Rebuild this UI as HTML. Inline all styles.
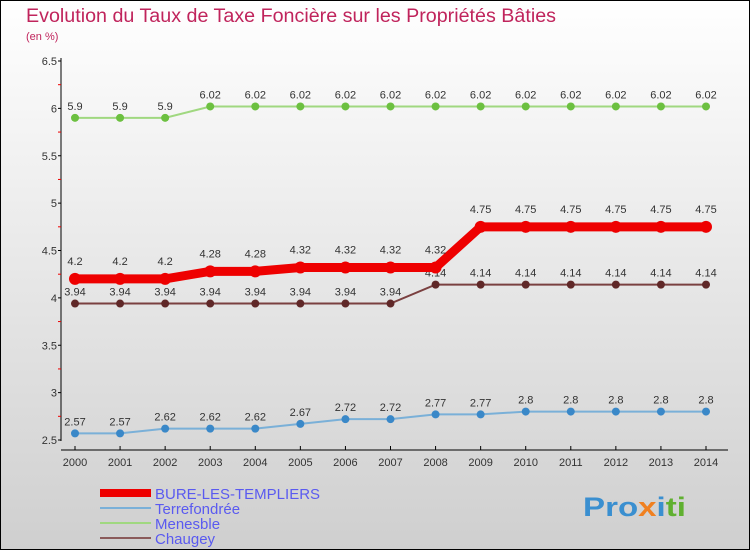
<!DOCTYPE html>
<html><head><meta charset="utf-8"><style>
body{margin:0}
#c{width:750px;height:550px;position:relative;overflow:hidden}
svg text{font-family:"Liberation Sans",sans-serif}
</style></head><body>
<div id="c">
<svg id="s" width="750" height="550" xmlns="http://www.w3.org/2000/svg">
<defs><linearGradient id="bg" x1="0" y1="0" x2="0" y2="1"><stop offset="0" stop-color="#ffffff"/><stop offset="1" stop-color="#cfcfcf"/></linearGradient></defs>
<rect x="0.5" y="0.5" width="749" height="549" fill="url(#bg)" stroke="#000"/>
<text x="26" y="22" font-size="19" textLength="530" lengthAdjust="spacingAndGlyphs" fill="#c0245c">Evolution du Taux de Taxe Foncière sur les Propriétés Bâties</text>
<text x="26" y="40" font-size="11" fill="#c0245c">(en %)</text>
<g id="axes"></g><g id="series"></g><g id="legend"></g>
<text x="583" y="516" font-size="27" textLength="103" lengthAdjust="spacingAndGlyphs" font-weight="bold" fill="#f0a020"><tspan fill="#3a8fd0">Pro</tspan><tspan fill="#f08020">x</tspan><tspan fill="#3a8fd0">i</tspan><tspan fill="#60b030">ti</tspan></text>
</svg></div>
<script>
const years=[2000,2001,2002,2003,2004,2005,2006,2007,2008,2009,2010,2011,2012,2013,2014];
const yTicks=[2.5,3,3.5,4,4.5,5,5.5,6,6.5];
const names=["BURE-LES-TEMPLIERS","Terrefondrée","Menesble","Chaugey"];
const bure=[4.2,4.2,4.2,4.28,4.28,4.32,4.32,4.32,4.32,4.75,4.75,4.75,4.75,4.75,4.75];
const terre=[2.57,2.57,2.62,2.62,2.62,2.67,2.72,2.72,2.77,2.77,2.8,2.8,2.8,2.8,2.8];
const menes=[5.9,5.9,5.9,6.02,6.02,6.02,6.02,6.02,6.02,6.02,6.02,6.02,6.02,6.02,6.02];
const chau=[3.94,3.94,3.94,3.94,3.94,3.94,3.94,3.94,4.14,4.14,4.14,4.14,4.14,4.14,4.14];
const NS="http://www.w3.org/2000/svg";
const X=i=>75+i*(706-75)/(years.length-1);
const Y=v=>440-(v-2.5)*(440-61)/4;
function mk(t,a,p){const e=document.createElementNS(NS,t);for(const k in a)e.setAttribute(k,a[k]);p.appendChild(e);return e;}
const ax=document.getElementById('axes');
let l=mk('line',{x1:61,y1:58,x2:61,y2:441,stroke:'#000','stroke-width':1},ax);


l=mk('line',{x1:61,y1:450,x2:728,y2:450,stroke:'#000','stroke-width':1},ax);


yTicks.forEach((v,i)=>{
 mk('line',{x1:58,y1:Y(v),x2:61,y2:Y(v),stroke:'#000'},ax);
 if(i<yTicks.length-1)mk('line',{x1:58,y1:Y(v+0.25),x2:61,y2:Y(v+0.25),stroke:'#e00'},ax);
 const t=mk('text',{x:57,y:Y(v)+4,'font-size':11,fill:'#333','text-anchor':'end'},ax);
 t.textContent=String(v);
 
 
});
years.forEach((y,i)=>{
 mk('line',{x1:X(i),y1:446,x2:X(i),y2:450,stroke:'#000'},ax);
 const t=mk('text',{x:X(i),y:466,'font-size':11,fill:'#333','text-anchor':'middle'},ax);
 t.textContent=y;
 
 
});
const sg=document.getElementById('series');
const cfg=[[menes,'#a0d880','#6cc040',2,4],[chau,'#7a4040','#602828',2,4],[terre,'#7ab0d8','#3a88c8',2,4],[bure,'#ee0000','#ee0000',9,6]];
const nm=['series-menesble','series-chaugey','series-terrefondree','series-bure-les-templiers'];
cfg.forEach(([d,lc,pc,w,r],k)=>{
 const g=mk('g',{},sg);
 
 
 mk('polyline',{points:d.map((v,i)=>X(i)+','+Y(v)).join(' '),fill:'none',stroke:lc,'stroke-width':w},g);
 d.forEach((v,i)=>{
  const c=mk('circle',{cx:X(i),cy:Y(v),r:r,fill:pc},g);
  
  
  const t=mk('text',{x:X(i),y:Y(v)-(k==3?14:8),'font-size':11,fill:'#333','text-anchor':'middle'},g);
  t.textContent=String(v);
  
  
 });
});
const lg=document.getElementById('legend');
const lcs=['#ee0000','#7ab0d8','#a0d880','#8a5a5a'],lw=[8,2,2,2];
names.forEach((n,i)=>{
 const g=mk('g',{},lg);
 
 
 mk('line',{x1:100,y1:493+i*15,x2:151,y2:493+i*15,stroke:lcs[i],'stroke-width':lw[i]},g);
 const t=mk('text',{x:155,y:499+i*15,'font-size':15,fill:'#5a5af0'},g);
 t.textContent=n;
});
</script>
</body></html>
